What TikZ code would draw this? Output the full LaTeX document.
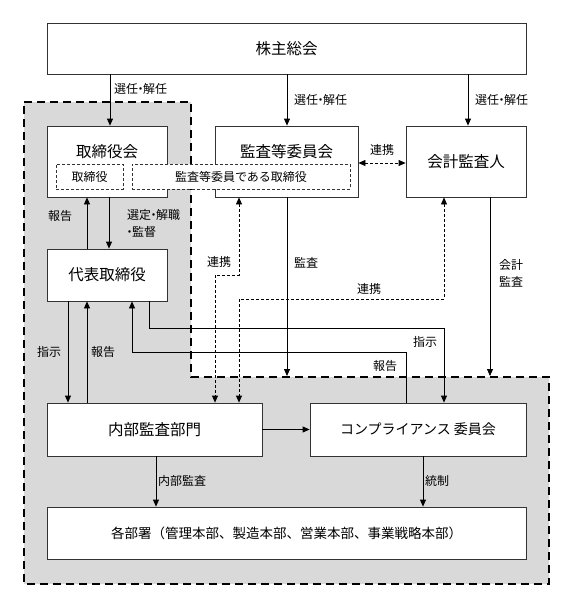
\documentclass[tikz,border=0pt]{standalone}
\usepackage{fontspec}
\setmainfont{Noto Sans CJK JP}
\usetikzlibrary{arrows.meta}
\definecolor{regiongray}{HTML}{D9D9D9}
\definecolor{boxline}{HTML}{333333}
\newcommand{\ndot}{\kern-0.3em・\kern-0.3em}
\tikzset{
    box/.style={draw=boxline, fill=white, line width=0.8pt, inner sep=0pt},
    subbox/.style={draw=boxline, fill=white, line width=0.8pt, inner sep=0pt, dash pattern=on 3pt off 2pt},
    bigtext/.style={font=\fontsize{15.5}{18}\selectfont},
    lbl/.style={font=\fontsize{12}{17}\selectfont, inner sep=1pt},
    arr/.style={-{Triangle[length=7pt,width=6pt]}, line width=0.8pt},
    link/.style={{Triangle[length=7pt,width=6pt]}-{Triangle[length=7pt,width=6pt]}, line width=0.8pt, dash pattern=on 3pt off 2pt}
}

\begin{document}
\begin{tikzpicture}[x=1pt,y=-1pt]
    \useasboundingbox (0,0) rectangle (568,610);

    % Gray region
    \fill[regiongray] (24,102) -- (191,102) -- (191,377) -- (549,377) -- (549,584) -- (24,584) -- cycle;
    \draw[line width=1.6pt, dash pattern=on 8pt off 5pt] (24,102) -- (191,102) -- (191,377) -- (549,377) -- (549,584) -- (24,584) -- cycle;

    % Boxes
    \node[box, bigtext, minimum width=479pt, minimum height=51pt] (gm) at (286.5,48.5) {株主総会};
    \node[box, minimum width=120pt, minimum height=71pt] (bod) at (107,161.5) {};
    \node[bigtext] (bodtext) at (107,152) {取締役会};
    \node[box, minimum width=143pt, minimum height=71pt] (ac) at (286.5,161.5) {};
    \node[bigtext] (actext) at (286.5,152) {監査等委員会};
    \node[box, bigtext, minimum width=120pt, minimum height=71pt] (ea) at (466,161.5) {会計監査人};
    \node[subbox, lbl, minimum width=67pt, minimum height=25pt] (dir) at (89.5,176.5) {取締役};
    \node[subbox, lbl, minimum width=218pt, minimum height=25pt] (acdir) at (241,176.5) {監査等委員である取締役};
    \node[box, bigtext, minimum width=120pt, minimum height=52pt] (rep) at (107,275) {代表取締役};
    \node[box, bigtext, minimum width=215pt, minimum height=53pt] (iad) at (154.5,429.5) {内部監査部門};
    \node[box, font=\fontsize{14}{17}\selectfont, minimum width=216pt, minimum height=53pt] (comp) at (418,429.5) {コンプライアンス 委員会};
    \node[box, font=\fontsize{13.5}{17}\selectfont, minimum width=479pt, minimum height=52pt] (dept) at (286.5,533) {各部署（管理本部、製造本部、営業本部、事業戦略本部）};

    % Shareholders
    \draw[arr] (gm.south -| 110,0) -- (bod.north -| 110,0);
    \draw[arr] (gm.south -| 287,0) -- (ac.north -| 287,0);
    \draw[arr] (gm.south -| 468,0) -- (ea.north -| 468,0);
    \node[lbl, anchor=west] (sel1) at (113,89) {選任\ndot 解任};
    \node[lbl, anchor=west] (sel2) at (293,100) {選任\ndot 解任};
    \node[lbl, anchor=west] (sel3) at (474,100) {選任\ndot 解任};

    % Board and representative
    \draw[link] (ac.east |- 0,163) -- (ea.west |- 0,163);
    \node[lbl] (link1) at (382,150) {連携};
    \draw[arr] (rep.north -| 87,0) -- (bod.south -| 87,0);
    \draw[arr] (bod.south -| 109,0) -- (rep.north -| 109,0);
    \node[lbl] (rep1) at (60,216) {報告};
    \node[lbl, anchor=west, align=left] (appoint) at (126,223.5) {選定\ndot 解職\\\kern-0.3em・\kern-0.3em 監督};

    % Audit lines
    \coordinate (auditend) at (287,376);
    \coordinate (eaend) at (490,376);
    \draw[arr] (ac.south -| 287,0) -- (auditend);
    \node[lbl] (audit) at (306,263) {監査};
    \draw[arr] (ea.south -| 490,0) -- (eaend);
    \node[lbl, align=center] (eaudit) at (511,273.5) {会計\\監査};
    \draw[link] (ac.south -| 239,0) -- (239,275) -| (iad.north -| 215,0);
    \node[lbl] (link2) at (219,262) {連携};
    \draw[link] (ea.south -| 444,0) -- (444,299) -| (iad.north -| 239,0);
    \node[lbl] (link3) at (369,289) {連携};

    % Instructions and reports
    \draw[arr] (rep.south -| 68,0) -- (iad.north -| 68,0);
    \draw[arr] (iad.north -| 87,0) -- (rep.south -| 87,0);
    \node[lbl] (inst1) at (49,352) {指示};
    \node[lbl] (rep2) at (103,352) {報告};
    \draw[arr] (rep.south -| 149,0) -- (149,328) -| (comp.north -| 444,0);
    \node[lbl] (inst2) at (425,342) {指示};
    \draw[arr] (comp.north -| 406,0) -- (406,352) -| (rep.south -| 132,0);
    \node[lbl] (rep3) at (385,366) {報告};

    % Lower part
    \draw[arr] (iad.east) -- (comp.west);
    \draw[arr] (iad.south -| 156,0) -- (dept.north -| 156,0);
    \node[lbl, anchor=west] (intaudit) at (157,481) {内部監査};
    \draw[arr] (comp.south -| 423,0) -- (dept.north -| 423,0);
    \node[lbl, anchor=west] (control) at (424,481) {統制};
\end{tikzpicture}
\end{document}
